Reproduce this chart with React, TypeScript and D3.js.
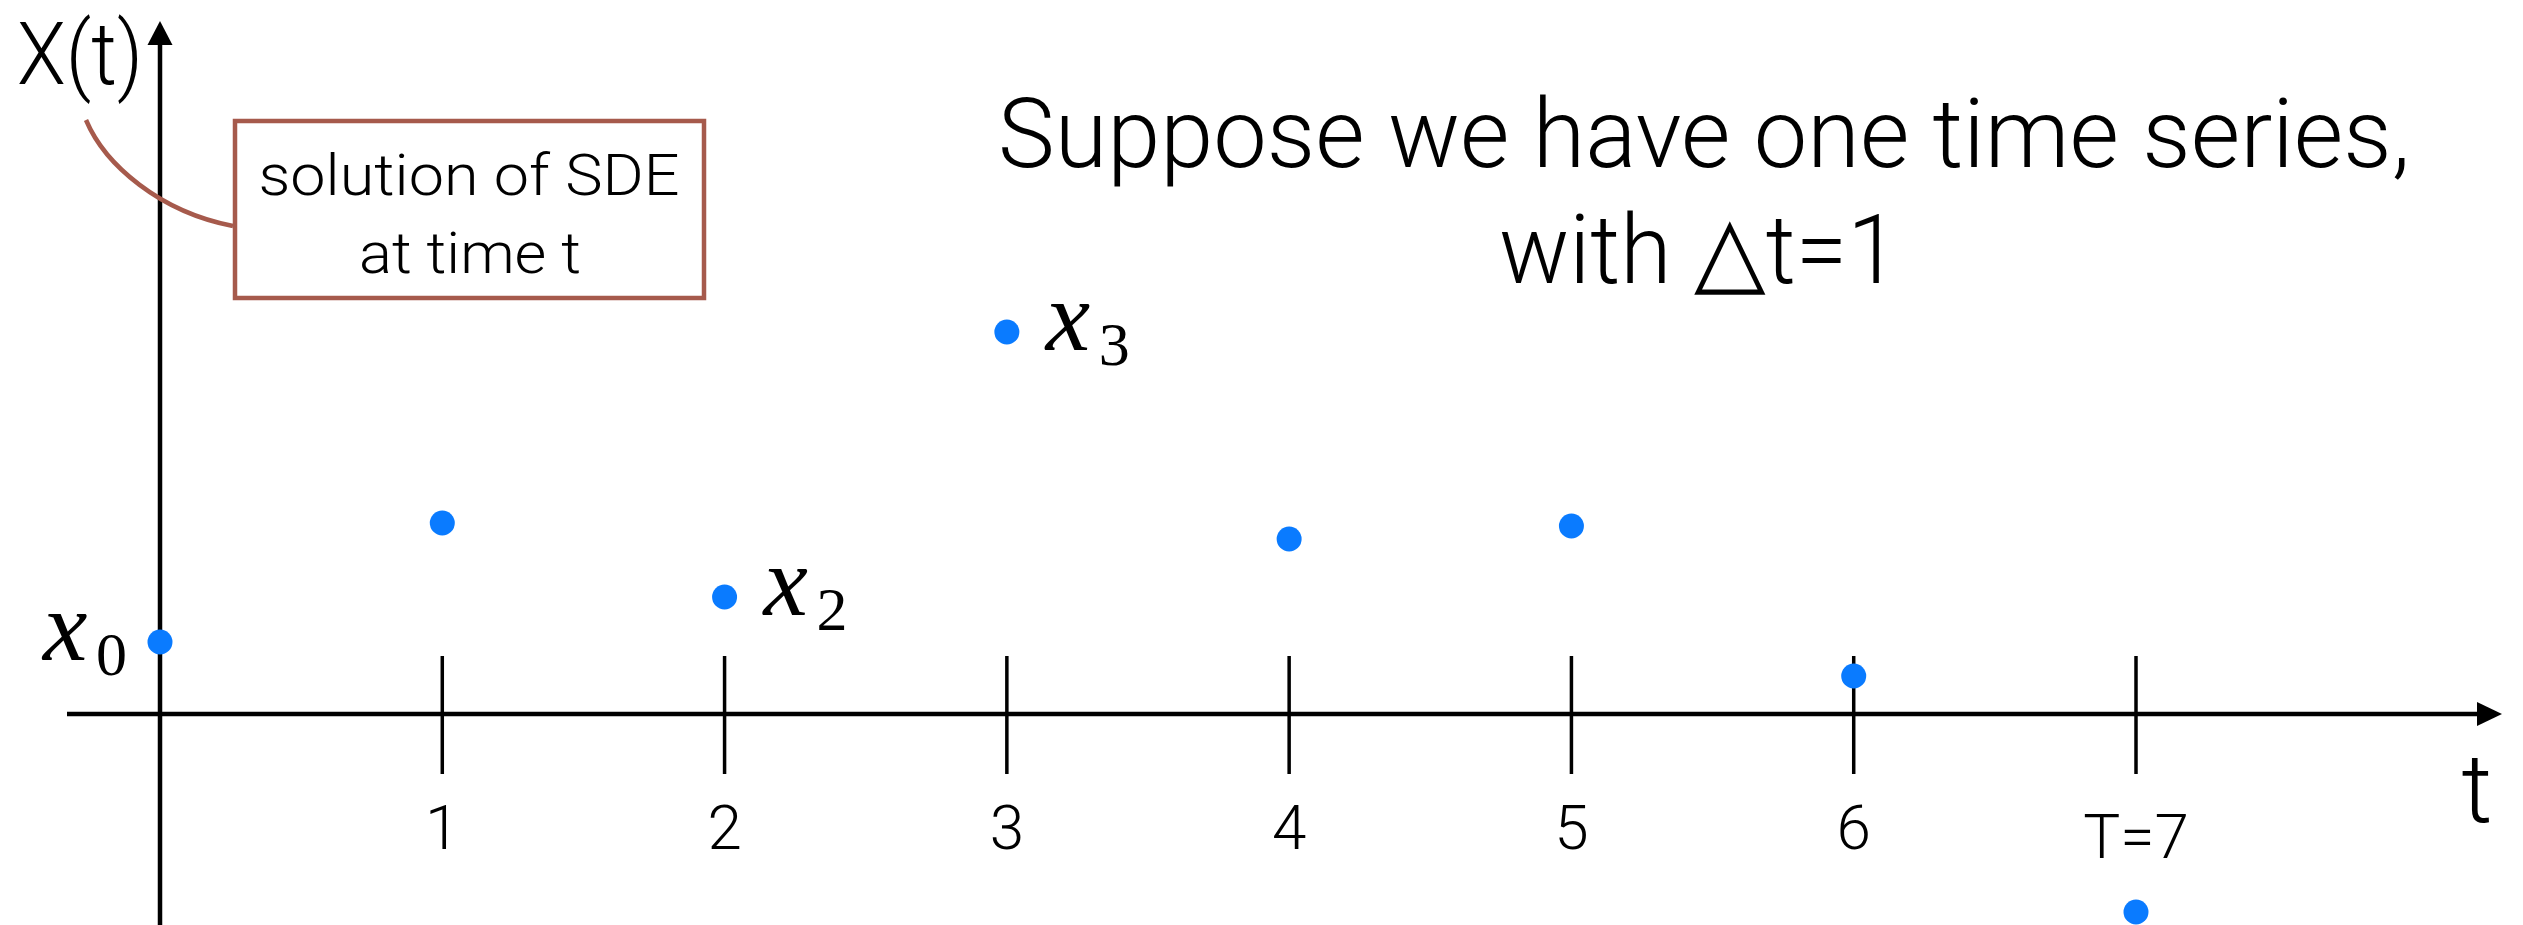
import React from "react";
import * as d3 from "d3";

// ---- data ----
const times = [0, 1, 2, 3, 4, 5, 6, 7];
const values = [0.72, 1.91, 1.17, 3.82, 1.75, 1.88, 0.38, -1.98];
const tickTimes = [1, 2, 3, 4, 5, 6, 7];
const tickLabels = ["1", "2", "3", "4", "5", "6", "T=7"];
const pointLabelIdx = [0, 2, 3];
const pointLabelSubs = ["0", "2", "3"];
const titleLines = ["Suppose we have one time series,", "with \u25B3t=1"];
const noteLines = ["solution of SDE", "at time t"];

const W = 2523;
const H = 925;
const SANS = "Roboto, 'Liberation Sans', sans-serif";
const SERIF = "'Liberation Serif', 'DejaVu Serif', serif";
const BLUE = "#0a7bff";
const BROWN = "#a65a4c";

export default function App() {
  const x = d3.scaleLinear().domain([0, 7]).range([160, 2136]);
  const y = d3.scaleLinear().domain([0, 1]).range([714, 614]);
  const x0 = x(0);
  const y0 = y(0);

  const curve = d3.path();
  curve.moveTo(86, 120);
  curve.bezierCurveTo(105, 165, 160, 212, 233, 226);

  return (
    <svg
      width={W}
      height={H}
      viewBox={`0 0 ${W} ${H}`}
      style={{ position: "absolute", left: 0, top: 0, display: "block", background: "#fff" }}
    >
      {/* y axis */}
      <line x1={x0} x2={x0} y1={H} y2={40} stroke="#000" strokeWidth={4.5} />
      <path d={`M${x0 - 12.5},45 L${x0 + 12.5},45 L${x0},21 Z`} fill="#000" />
      <text x={17} y={84} fontFamily={SANS} fontWeight={300} fontSize={88} textLength={126} lengthAdjust="spacingAndGlyphs">
        X(t)
      </text>

      {/* x axis */}
      <line x1={67} x2={2480} y1={y0} y2={y0} stroke="#000" strokeWidth={4.5} />
      <path d={`M2477,${y0 - 12} L2477,${y0 + 12} L2502,${y0} Z`} fill="#000" />
      <text x={2477} y={822} textAnchor="middle" fontFamily={SANS} fontWeight={300} fontSize={96}>
        t
      </text>

      {/* ticks */}
      {tickTimes.map((t, i) => (
        <g key={t}>
          <line x1={x(t)} x2={x(t)} y1={y0 - 58} y2={y0 + 60} stroke="#000" strokeWidth={3.5} />
          <text
            x={x(t)}
            y={tickLabels[i].length > 1 ? 858 : 849}
            textAnchor="middle"
            fontFamily={SANS}
            fontWeight={300}
            fontSize={62}
          >
            {tickLabels[i]}
          </text>
        </g>
      ))}

      {/* points */}
      {times.map((t, i) => (
        <circle key={t} cx={x(t)} cy={y(values[i])} r={12.5} fill={BLUE} />
      ))}

      {/* point labels */}
      {pointLabelIdx.map((idx, k) => {
        const cx = x(times[idx]);
        const cy = y(values[idx]);
        const left = idx === 0;
        const bx = left ? cx - 117 : cx + 39;
        return (
          <g key={idx}>
            <text x={bx} y={cy + 18} fontFamily={SERIF} fontStyle="italic" fontSize={100}>
              x
            </text>
            <text x={bx + 53} y={cy + 33} fontFamily={SERIF} fontSize={62}>
              {pointLabelSubs[k]}
            </text>
          </g>
        );
      })}

      {/* title */}
      <text x={1704} y={167} textAnchor="middle" fontFamily={SANS} fontWeight={300} fontSize={96} textLength={1412} lengthAdjust="spacingAndGlyphs">
        {titleLines[0]}
      </text>
      <text x={1699} y={283} textAnchor="middle" fontFamily={SANS} fontWeight={300} fontSize={96} textLength={400} lengthAdjust="spacingAndGlyphs">
        {titleLines[1]}
      </text>

      {/* annotation */}
      <path d={curve.toString()} fill="none" stroke={BROWN} strokeWidth={4.5} />
      <rect x={235} y={121} width={469} height={177} fill="#fff" stroke={BROWN} strokeWidth={4.5} />
      <text x={469} y={195} textAnchor="middle" fontFamily={SANS} fontWeight={300} fontSize={58} textLength={421} lengthAdjust="spacingAndGlyphs">
        {noteLines[0]}
      </text>
      <text x={470} y={273} textAnchor="middle" fontFamily={SANS} fontWeight={300} fontSize={58} textLength={222} lengthAdjust="spacingAndGlyphs">
        {noteLines[1]}
      </text>
    </svg>
  );
}
